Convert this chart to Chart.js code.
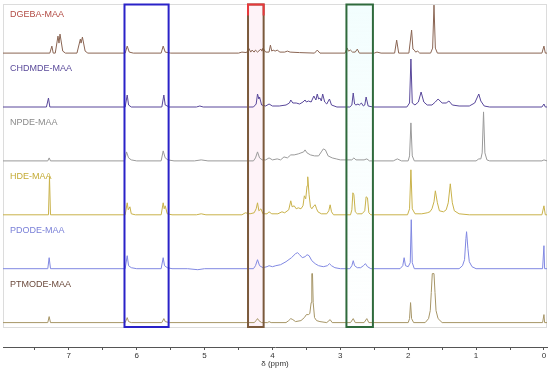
<!DOCTYPE html>
<html>
<head>
<meta charset="utf-8">
<title>1H NMR of MAA monomers</title>
<script src="https://cdn.jsdelivr.net/npm/chart.js@4.4.0/dist/chart.umd.min.js"></script>
<style>
body{margin:0;background:#fff;}
canvas{display:block;}
</style>
</head>
<body>
<canvas id="nmrChart" width="550" height="369"></canvas>
<script>

// Spectra: [shift in ppm, intensity]

const dgebaMAA=[
[7.97,0],[7.28,0],[7.25,7],[7.23,0],
[7.20,0],[7.16,17],[7.145,10],[7.13,19],[7.09,2],[7.05,0],
[6.88,0],[6.83,14],[6.82,10],[6.80,16],[6.76,2],[6.72,0],
[6.17,0],[6.14,7],[6.11,1],[6.05,0],
[5.64,0],[5.61,7],[5.58,1],[5.50,0],
[4.50,0],[4.45,1],[4.38,0.5],[4.35,5],[4.32,1],[4.30,3],[4.27,1],[4.25,3],[4.22,1],[4.17,4],[4.155,2],[4.14,5],[4.10,1],[4.05,1],[4.03,8],[4.01,2],[3.99,3],[3.96,2],[3.93,3],[3.89,1],[3.82,1],[3.78,2],[3.74,1],[3.60,0.5],[3.38,0],[3.34,3],[3.30,0],
[2.93,0],[2.90,5],[2.88,2],[2.85,3],[2.82,1],[2.78,1],[2.75,4],[2.72,0],
[2.50,0],[2.46,1],[2.40,0],
[2.20,0],[2.17,13],[2.14,0],
[1.99,0],[1.95,23],[1.93,4],[1.91,3],[1.89,1],[1.86,2],[1.83,0],
[1.67,0],[1.64,5],[1.62,48],[1.60,5],[1.57,0],
[0.03,0],[0.00,7],[-0.02,0],[-0.045,0]
];

const chdmdeMAA=[
[7.97,0],[7.33,0],[7.30,9],[7.28,0],
[6.17,0],[6.14,12],[6.12,2],[6.08,0],
[5.63,0],[5.60,12],[5.58,2],[5.52,0],
[5.12,0],[5.07,1],[5.02,0],
[4.28,0],[4.24,3],[4.22,13],[4.20,8],[4.19,10],[4.16,2],[4.10,1],[4.05,3],[4.00,1],[3.90,1],[3.80,2],[3.75,4],[3.73,7],[3.70,4],[3.65,4],[3.60,3],[3.55,5],[3.52,7],[3.50,5],[3.47,6],[3.43,5],[3.39,11],[3.36,7],[3.34,13],[3.32,8],[3.30,9],[3.28,6],[3.26,13],[3.23,5],[3.20,3],[3.16,8],[3.13,2],[3.05,0],
[2.86,0],[2.83,2],[2.81,14],[2.79,3],[2.77,2],[2.74,3],[2.72,2],[2.69,4],[2.66,1],[2.64,2],[2.62,10],[2.59,1],[2.52,0],
[2.02,0],[1.98,4],[1.96,48],[1.94,4],[1.90,2],[1.85,5],[1.81,15],[1.77,5],[1.72,2],[1.65,2],[1.60,5],[1.56,8],[1.50,4],[1.44,4],[1.40,6],[1.35,2],[1.25,1],[1.10,1],[1.02,4],[0.98,10],[0.96,13],[0.93,6],[0.88,1],[0.80,0],
[0.03,0],[0.00,3],[-0.02,0],[-0.045,0]
];

const npdeMAA=[
[7.97,0],[7.31,0],[7.29,3],[7.27,0],
[6.18,0],[6.15,9],[6.12,3],[6.08,1],[6.00,0],
[5.64,0],[5.61,10],[5.58,3],[5.54,1],[5.45,0],
[5.15,0],[5.05,1],[4.95,0],
[4.28,0],[4.25,3],[4.22,9],[4.19,3],[4.15,1],[4.10,1],[4.05,3],[4.00,1],[3.93,2],[3.88,1],[3.83,4],[3.78,3],[3.73,6],[3.68,6],[3.62,7],[3.58,8],[3.54,9],[3.52,11],[3.49,8],[3.44,6],[3.38,5],[3.32,5],[3.28,9],[3.25,12],[3.22,11],[3.18,5],[3.12,3],[3.06,2],[3.00,1],[2.90,1],[2.83,1],[2.80,3],[2.77,1],[2.65,1],[2.61,2],[2.57,0],
[2.22,0],[2.16,2],[2.10,0],
[2.00,0],[1.98,5],[1.96,38],[1.94,5],[1.91,0],
[1.00,0],[0.96,2],[0.93,2],[0.91,8],[0.89,49],[0.87,8],[0.84,1],[0.80,0],
[0.03,0],[0.00,1],[-0.045,0]
];

const hdeMAA=[
[7.97,0],[7.30,0],[7.285,38],[7.27,0],
[6.17,0],[6.14,12],[6.125,5],[6.10,8],[6.08,1],[6.02,0],
[5.64,0],[5.61,12],[5.595,6],[5.58,9],[5.55,1],[5.48,0],
[5.12,0],[5.05,1],[4.98,0],
[4.45,0],[4.40,2],[4.33,1],[4.27,2],[4.24,6],[4.22,12],[4.20,4],[4.17,6],[4.14,1],[4.08,1],[4.05,3],[4.01,1],[3.92,1],[3.86,3],[3.82,2],[3.76,5],[3.73,14],[3.71,8],[3.68,9],[3.65,6],[3.62,7],[3.58,6],[3.55,9],[3.53,19],[3.51,16],[3.49,29],[3.48,38],[3.46,20],[3.44,8],[3.42,6],[3.39,9],[3.37,10],[3.35,6],[3.33,3],[3.28,1],[3.20,1],[3.17,4],[3.15,10],[3.13,3],[3.10,0],
[2.85,0],[2.83,5],[2.815,22],[2.80,20],[2.78,3],[2.75,1],[2.68,1],[2.64,4],[2.62,18],[2.60,17],[2.58,2],[2.55,0],
[2.01,0],[1.98,6],[1.96,45],[1.94,6],[1.90,1],[1.80,1],[1.72,2],[1.68,3],[1.65,6],[1.62,13],[1.60,24],[1.57,12],[1.54,4],[1.48,3],[1.44,5],[1.41,12],[1.38,31],[1.35,12],[1.32,4],[1.25,1],[1.10,0],
[0.03,0],[0.00,9],[-0.02,0],[-0.045,0]
];

const pdodeMAA=[
[7.97,0],[7.31,0],[7.29,11],[7.27,0],
[6.17,0],[6.14,13],[6.12,3],[6.08,1],[6.00,0],
[5.64,0],[5.61,11],[5.59,3],[5.55,1],[5.48,0],
[5.25,0],[5.10,-1],[5.00,0],
[4.28,0],[4.25,3],[4.22,9],[4.19,3],[4.14,1],[4.08,2],[4.05,3],[4.00,2],[3.95,3],[3.88,4],[3.80,7],[3.72,11],[3.66,15],[3.63,16],[3.60,14],[3.56,11],[3.52,12],[3.49,14],[3.46,13],[3.42,8],[3.37,5],[3.32,3],[3.25,2],[3.19,3],[3.16,5],[3.13,3],[3.08,1],[3.00,0],
[2.86,0],[2.83,3],[2.81,8],[2.79,3],[2.75,1],[2.70,1],[2.66,3],[2.63,5],[2.60,2],[2.55,0],
[2.12,0],[2.08,3],[2.06,11],[2.04,3],[2.00,2],[1.97,6],[1.955,49],[1.94,6],[1.91,0],
[1.25,0],[1.20,3],[1.17,9],[1.15,30],[1.14,37],[1.12,20],[1.10,7],[1.06,2],[1.00,0],
[0.02,0],[0.00,23],[-0.01,0],[-0.045,0]
];

const ptmodeMAA=[
[7.97,0],[7.31,0],[7.29,6],[7.27,0],
[6.17,0],[6.14,5],[6.12,1],[6.08,0],
[5.63,0],[5.60,4],[5.58,1],[5.52,0],
[4.27,0],[4.24,2],[4.22,4],[4.20,2],[4.16,0],[4.07,0],[4.05,1],[4.02,0],
[3.80,0],[3.76,2],[3.73,4],[3.70,3],[3.66,1],[3.58,2],[3.53,5],[3.50,8],[3.47,8],[3.45,9],[3.43,20],[3.42,49],[3.41,49],[3.40,20],[3.38,5],[3.35,2],[3.30,1],[3.20,0],[3.15,3],[3.12,0],
[2.85,0],[2.81,4],[2.78,0],[2.65,0],[2.61,4],[2.58,0],
[2.00,0],[1.98,4],[1.965,20],[1.95,4],[1.92,0],
[1.75,0],[1.70,4],[1.675,12],[1.66,30],[1.645,49],[1.62,49],[1.605,30],[1.59,12],[1.56,4],[1.50,0],
[0.02,0],[0.00,8],[-0.01,0],[-0.045,0]
];

const sampleNames=["DGEBA-MAA","CHDMDE-MAA","NPDE-MAA","HDE-MAA","PDODE-MAA","PTMODE-MAA"];
const spectra=[dgebaMAA,chdmdeMAA,npdeMAA,hdeMAA,pdodeMAA,ptmodeMAA];

// axis ticks (ppm), labels only on whole numbers
const tickPpm=[7.5,7,6.5,6,5.5,5,4.5,4,3.5,3,2.5,2,1.5,1,0.5,0];

// highlighted regions [from ppm, to ppm]
const blueRegion=[6.18,5.53];
const redRegion=[4.36,4.13];
const greenRegion=[2.91,2.52];

// styling / stacking
const lineColors=["#8a6553","#58479a","#9a9a9a","#c9b24a","#8088e2","#a69566"];
const labelColors=["#b24b44","#5a4a9a","#8a8a8a","#c4ab34","#7a80d8","#6b4a3c"];
const stackGap=53.9;
const lowestBase=24.4;

let datasets=spectra.map((s,i)=>{
let base=lowestBase+stackGap*(spectra.length-1-i);
return{
label:sampleNames[i],
data:s.map(p=>({x:p[0],y:p[1]+base})),
borderColor:lineColors[i],
borderWidth:1,
pointRadius:0,
tension:0,
fill:false
};
});

function regionRect(chart,r){
let x=chart.scales.x;
let a=x.getPixelForValue(r[0]);
let b=x.getPixelForValue(r[1]);
return{x0:Math.min(a,b),x1:Math.max(a,b),y0:4.5,y1:327};
}

const decorPlugin={
id:"decor",
beforeDatasetsDraw(chart){
let ctx=chart.ctx;
let area=chart.chartArea;
ctx.save();
// light frame
ctx.strokeStyle="#dcdcdc";
ctx.lineWidth=1;
ctx.strokeRect(area.left+0.5,4.5,area.right-area.left-1,323);
// region tints
let r=regionRect(chart,redRegion);
ctx.fillStyle="rgba(252,228,240,0.45)";
ctx.fillRect(r.x0,r.y0,r.x1-r.x0,r.y1-r.y0);
let g=regionRect(chart,greenRegion);
let grad=ctx.createLinearGradient(0,g.y0,0,g.y1);
grad.addColorStop(0,"rgba(226,252,252,0.45)");
grad.addColorStop(1,"rgba(245,253,252,0.1)");
ctx.fillStyle=grad;
ctx.fillRect(g.x0,g.y0,g.x1-g.x0,g.y1-g.y0);
ctx.restore();
},
afterDatasetsDraw(chart){
let ctx=chart.ctx;
let y=chart.scales.y;
ctx.save();
ctx.lineWidth=2;
let b=regionRect(chart,blueRegion);
ctx.strokeStyle="#2a22c8";
ctx.strokeRect(b.x0,b.y0,b.x1-b.x0,b.y1-b.y0);
let g=regionRect(chart,greenRegion);
ctx.strokeStyle="#2f6a3c";
ctx.strokeRect(g.x0,g.y0,g.x1-g.x0,g.y1-g.y0);
let r=regionRect(chart,redRegion);
ctx.strokeStyle="#7b5a3c";
ctx.strokeRect(r.x0,r.y0,r.x1-r.x0,r.y1-r.y0);
ctx.strokeStyle="#e8383c";
ctx.beginPath();
ctx.moveTo(r.x0,r.y0+11);
ctx.lineTo(r.x0,r.y0);
ctx.lineTo(r.x1,r.y0);
ctx.lineTo(r.x1,r.y0+11);
ctx.stroke();
// sample names
ctx.font="9px 'Liberation Sans', Arial, sans-serif";
ctx.textAlign="left";
ctx.textBaseline="middle";
sampleNames.forEach((n,i)=>{
let base=lowestBase+stackGap*(spectra.length-1-i);
ctx.fillStyle=labelColors[i];
ctx.fillText(n,10,y.getPixelForValue(base+38.5));
});
ctx.restore();
}
};

new Chart(
document.getElementById("nmrChart"),
{
type:"line",
data:{datasets:datasets},
options:{
responsive:false,
animation:false,
devicePixelRatio:1,
layout:{padding:{left:3,right:3,top:4,bottom:0}},
plugins:{legend:{display:false},tooltip:{enabled:false}},
scales:{
x:{
type:"linear",
reverse:true,
min:-0.045,
max:7.97,
afterBuildTicks(s){s.ticks=tickPpm.map(v=>({value:v}));},
afterFit(s){s.height=22;},
ticks:{
autoSkip:false,
maxRotation:0,
padding:1,
color:"#333",
font:{size:8,family:"'Liberation Sans', Arial, sans-serif"},
callback:v=>Number.isInteger(v)?String(v):""
},
grid:{drawOnChartArea:false,drawTicks:true,tickLength:3,color:"#555"},
border:{color:"#555",width:1},
title:{display:true,text:"δ (ppm)",color:"#333",padding:0,font:{size:8,family:"'Liberation Sans', Arial, sans-serif"}}
},
y:{display:false,min:0,max:343}
}
},
plugins:[decorPlugin]
}
);

</script>
</body>
</html>
